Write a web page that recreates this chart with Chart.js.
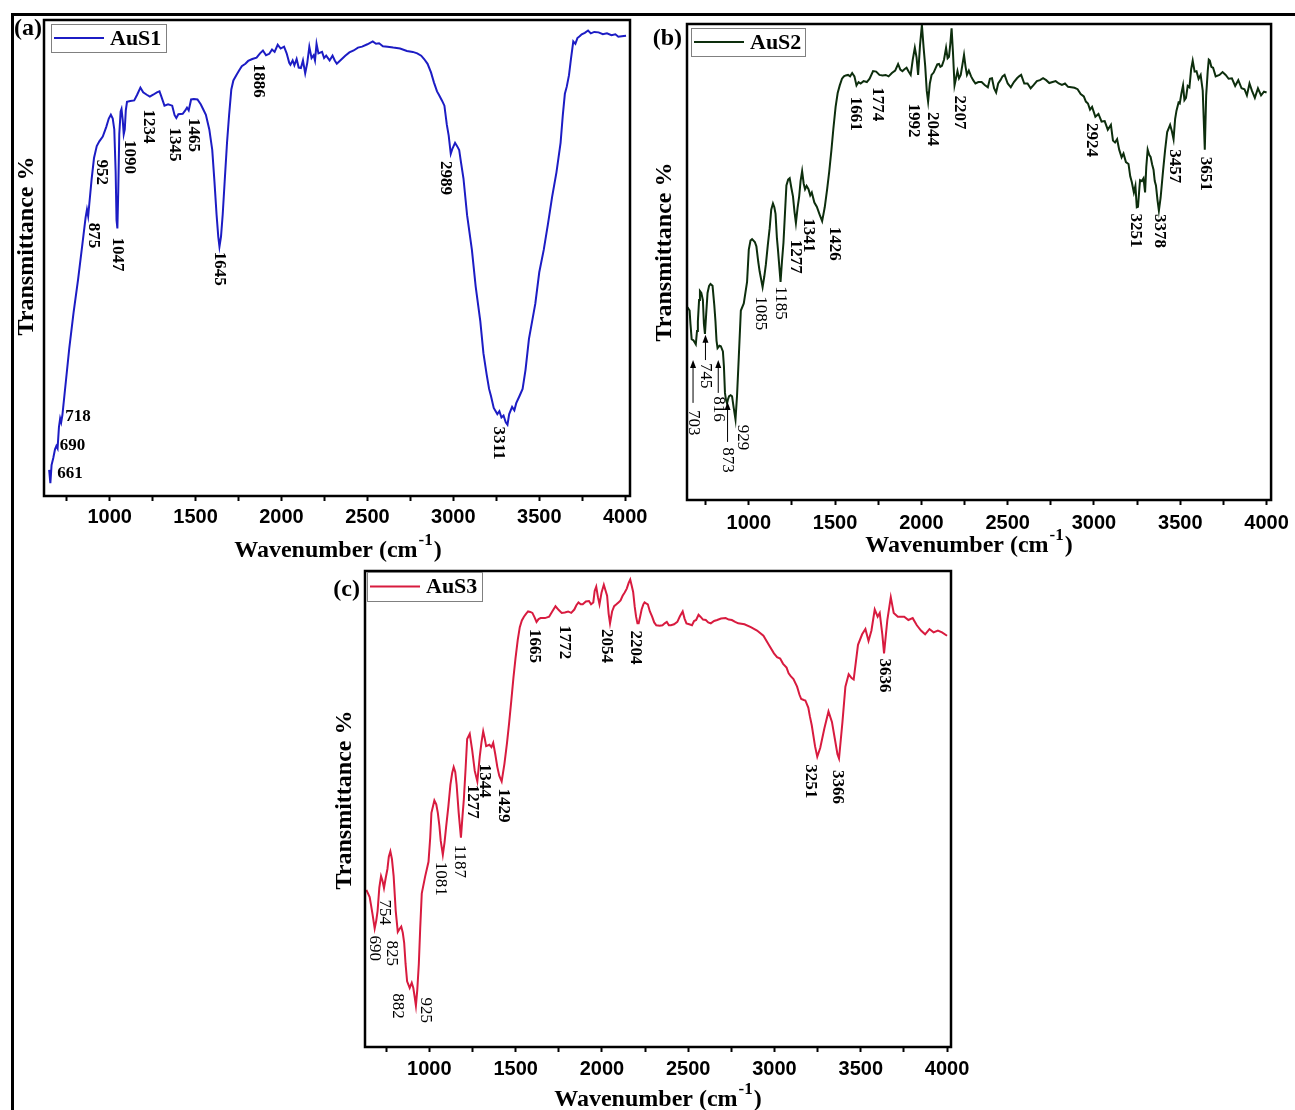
<!DOCTYPE html>
<html>
<head>
<meta charset="utf-8">
<script src="https://cdn.jsdelivr.net/npm/chart.js@4.4.0/dist/chart.umd.min.js"></script>
<style>
  html, body { margin: 0; padding: 0; background: #fff; }
  body { width: 1295px; height: 1110px; position: relative; overflow: hidden; }
  #frame { position: absolute; left: 11px; top: 13px; width: 1300px; height: 1110px;
           border-left: 3px solid #000; border-top: 3px solid #000; }
  canvas { position: absolute; left: 0; top: 0; }
</style>
</head>
<body>
<div id="frame"></div>
<canvas id="cA" width="1295" height="1110"></canvas>
<canvas id="cB" width="1295" height="1110"></canvas>
<canvas id="cC" width="1295" height="1110"></canvas>
<script>
// ---- data: wavenumber (cm-1) and transmittance (arbitrary %)
var aWn = [648,655,662,672,682,690,697,705,712,718,725,745,765,790,816,840,860,868,875,882,
  895,909,925,940,960,980,995,1007,1018,1027,1035,1040,1045,1050,1056,1064,1069,1076,1082,1088,
  1094,1101,1120,1143,1160,1179,1195,1216,1234,1253,1275,1290,1300,1319,1340,1364,1378,1388,1400,1425,
  1440,1450,1460,1474,1490,1511,1530,1545,1560,1580,1597,1610,1622,1632,1639,1648,1658,1670,1683,1695,
  1708,1720,1737,1755,1769,1790,1806,1830,1855,1875,1892,1910,1929,1945,1960,1978,1995,2015,2030,2045,
  2052,2065,2075,2088,2100,2113,2125,2138,2150,2162,2175,2187,2195,2204,2215,2236,2248,2260,2280,2297,
  2310,2322,2345,2371,2395,2420,2445,2469,2500,2531,2550,2568,2590,2617,2650,2690,2730,2764,2790,2813,
  2830,2850,2870,2887,2905,2916,2935,2948,2962,2973,2985,2995,3010,3022,3034,3045,3059,3080,3108,3130,
  3157,3175,3194,3208,3219,3235,3256,3268,3280,3292,3305,3315,3325,3342,3355,3366,3385,3403,3420,3440,
  3460,3477,3500,3526,3550,3575,3600,3624,3637,3649,3660,3673,3685,3698,3710,3722,3735,3747,3765,3784,
  3800,3820,3845,3870,3894,3920,3943,3960,3980,4005];
var aT = [5.5,2.7,6.5,8.0,9.8,10.5,10.0,14.5,16.3,15.5,17.0,24.0,31.0,38.5,45.4,52.5,58.5,60.2,58.8,61.5,
  66.5,71.0,73.5,74.5,75.5,77.5,79.3,80.1,79.3,77.0,68.0,58.0,56.2,64.0,76.0,80.8,81.3,79.0,76.0,77.0,
  81.0,82.8,83.0,83.1,84.3,85.8,84.8,84.3,83.9,84.3,84.8,85.0,84.0,82.0,82.3,82.0,80.0,79.4,80.2,80.3,
  81.0,81.6,81.0,83.3,83.4,83.3,82.3,81.2,80.1,77.0,72.7,66.0,59.2,54.5,52.4,54.5,59.2,66.5,74.2,80.0,
  85.4,87.3,88.4,89.5,90.3,90.8,91.4,91.8,92.1,93.0,93.6,92.6,92.9,93.8,93.3,94.8,94.0,94.4,93.0,91.0,
  90.6,91.5,90.5,91.8,90.0,89.9,91.5,88.8,91.0,94.4,92.0,92.6,91.5,95.0,93.0,93.3,92.0,92.5,91.5,92.5,
  91.5,90.8,91.6,92.5,93.2,93.6,94.2,94.4,94.9,95.5,95.0,95.1,94.5,94.4,94.2,94.0,93.5,93.3,93.0,92.5,
  91.8,90.8,89.0,86.9,85.0,84.3,83.0,82.0,78.0,75.7,71.9,73.0,74.2,73.5,72.7,70.0,66.7,59.0,51.7,44.0,
  36.7,30.0,25.5,22.5,21.0,18.5,17.2,17.8,16.5,16.9,15.5,15.0,17.2,18.7,18.0,19.5,21.0,22.5,26.5,33.0,
  37.0,40.4,47.0,51.7,57.0,62.9,68.0,74.2,80.0,84.5,86.0,88.4,92.0,95.5,95.0,96.2,96.6,97.0,97.3,97.8,
  97.2,97.5,97.4,97.0,97.2,96.8,97.0,96.5,96.6,96.7];

var bWn = [645,657,662,669,680,693,700,705,712,717,725,734,740,746,753,761,770,778,790,800,
  807,813,819,830,838,850,856,862,868,874,880,886,895,903,912,923,932,942,954,971,
  990,1000,1010,1019,1035,1044,1055,1063,1080,1090,1099,1110,1121,1130,1140,1148,1155,1163,1169,1184,
  1192,1201,1210,1218,1228,1237,1247,1256,1265,1273,1283,1292,1300,1309,1318,1326,1335,1346,1356,1365,
  1380,1394,1410,1425,1440,1454,1466,1479,1490,1503,1515,1527,1540,1551,1562,1575,1587,1599,1612,1624,
  1636,1648,1665,1684,1700,1720,1738,1757,1775,1793,1810,1829,1848,1865,1878,1890,1902,1914,1926,1938,
  1950,1962,1972,1981,1992,2003,2013,2022,2031,2039,2049,2059,2071,2083,2092,2102,2110,2119,2131,2143,
  2152,2160,2168,2175,2183,2192,2200,2209,2218,2228,2238,2247,2256,2264,2275,2288,2300,2313,2330,2349,
  2367,2385,2397,2409,2421,2433,2445,2458,2470,2482,2500,2518,2536,2554,2566,2578,2596,2615,2633,2651,
  2669,2687,2705,2723,2741,2760,2778,2796,2814,2832,2850,2869,2887,2905,2923,2941,2953,2965,2977,2989,
  3008,3026,3044,3062,3080,3098,3110,3122,3134,3146,3160,3171,3185,3200,3210,3219,3231,3240,3248,3255,
  3263,3267,3277,3287,3296,3303,3311,3320,3328,3337,3345,3352,3359,3368,3376,3386,3400,3412,3424,3441,
  3451,3461,3470,3478,3490,3497,3507,3516,3524,3533,3543,3553,3563,3572,3583,3594,3606,3618,3630,3642,
  3650,3659,3665,3671,3680,3690,3705,3727,3745,3763,3780,3799,3818,3836,3855,3872,3886,3901,3915,3932,
  3950,3968,3985,4000];
var bT = [40.5,39.8,37.0,33.8,33.5,32.7,35.5,37.5,42.0,43.9,43.5,42.0,37.0,34.9,39.0,43.5,45.0,45.4,45.0,41.0,
  37.5,33.5,31.9,32.4,32.3,31.2,28.0,22.5,21.0,20.3,21.2,21.8,22.0,21.8,19.5,16.9,22.0,30.0,39.8,41.3,
  45.8,52.6,54.5,54.8,54.2,53.3,50.0,48.0,44.7,47.0,49.5,53.5,57.1,61.0,62.3,61.5,60.1,55.0,52.6,45.8,
  50.0,54.1,60.5,66.1,67.3,67.6,65.5,63.8,60.5,58.2,61.5,63.8,67.0,69.1,66.5,65.3,66.0,65.3,64.0,64.6,
  62.5,61.6,60.0,58.6,61.5,65.3,69.0,73.6,78.0,82.6,85.5,87.1,88.5,89.0,89.2,89.3,89.0,89.7,89.0,87.1,
  87.8,87.5,88.0,87.8,88.5,90.1,90.0,89.3,89.2,89.3,89.0,89.7,90.2,91.6,90.4,90.1,90.5,90.8,90.0,89.3,
  92.5,95.0,93.0,89.3,95.5,99.8,95.0,91.2,86.0,83.7,87.5,89.3,89.8,90.8,91.5,91.6,91.0,91.2,92.5,95.0,
  92.8,93.1,96.0,99.1,94.0,87.1,88.5,90.1,88.6,89.3,91.5,93.5,91.0,89.3,90.2,89.0,88.2,87.5,87.8,87.8,
  87.2,86.7,88.5,88.6,86.5,85.6,87.5,88.2,89.0,89.3,87.5,86.7,87.8,88.6,89.0,89.3,87.5,87.5,86.5,87.2,
  88.0,88.2,88.6,88.2,87.6,87.8,88.0,87.5,87.2,87.5,86.8,86.7,86.6,86.3,85.3,84.8,83.7,83.3,82.0,82.6,
  80.5,81.1,79.5,79.6,77.8,78.8,75.5,75.1,75.8,73.6,72.0,72.8,71.0,70.6,68.0,66.8,64.6,66.0,61.5,61.6,
  65.5,67.2,67.0,67.6,64.6,70.0,73.6,72.5,72.1,70.5,69.4,67.0,66.1,63.0,60.8,63.5,69.1,73.5,77.3,78.8,
  77.5,75.8,80.0,81.8,83.5,83.3,85.5,87.1,84.0,84.5,87.0,86.7,90.5,92.3,90.0,90.1,88.5,89.3,86.0,73.6,
  85.0,90.1,92.5,92.3,91.0,90.8,89.0,89.3,89.9,89.3,88.5,88.6,87.0,88.2,86.5,86.3,85.0,87.5,86.0,84.5,
  86.5,85.0,85.8,85.6];

var cWn = [635,654,662,671,683,692,700,710,720,728,737,747,757,765,774,783,793,805,817,827,
  837,846,854,862,871,886,898,907,915,922,930,939,947,956,976,995,1005,1012,1029,1040,
  1049,1058,1066,1078,1088,1097,1110,1122,1132,1141,1150,1158,1170,1183,1192,1200,1210,1219,1234,1248,
  1263,1278,1292,1302,1312,1320,1329,1348,1360,1370,1382,1394,1405,1419,1435,1450,1462,1475,1487,1499,
  1512,1524,1536,1548,1560,1572,1585,1597,1609,1621,1633,1645,1670,1694,1712,1731,1750,1767,1785,1804,
  1822,1840,1852,1864,1877,1889,1907,1925,1937,1950,1958,1967,1977,1986,1998,2011,2020,2030,2039,2047,
  2059,2071,2084,2096,2108,2120,2132,2144,2155,2164,2172,2181,2190,2198,2206,2213,2222,2230,2240,2247,
  2256,2266,2278,2291,2303,2315,2335,2351,2364,2376,2388,2400,2418,2437,2452,2468,2479,2490,2506,2522,
  2534,2546,2560,2571,2586,2602,2616,2631,2650,2668,2690,2717,2735,2753,2772,2790,2826,2863,2899,2936,
  2967,2997,3015,3033,3050,3070,3082,3094,3110,3131,3145,3155,3170,3179,3196,3205,3216,3235,3248,3265,
  3289,3313,3333,3350,3365,3374,3394,3411,3430,3447,3459,3484,3508,3527,3545,3562,3581,3598,3610,3625,
  3635,3654,3674,3691,3715,3752,3776,3801,3825,3849,3873,3898,3922,3947,3971,4000];
var cT = [33.0,31.5,29.8,27.8,24.9,26.5,28.6,33.5,35.9,35.0,33.4,35.5,37.4,40.0,41.1,39.5,35.9,28.6,24.2,24.8,
  25.3,24.0,21.9,17.5,13.8,12.4,13.5,12.4,10.5,8.7,12.0,17.5,25.0,32.3,35.9,38.9,44.0,49.2,51.8,51.0,
  49.2,46.5,43.3,40.4,43.0,46.2,50.5,55.1,57.5,58.8,57.8,55.1,49.2,44.0,48.5,52.1,58.5,64.7,65.8,62.4,
  58.0,55.8,61.0,64.0,66.3,65.0,63.2,63.5,63.0,63.9,61.5,58.8,57.0,55.8,59.5,63.9,68.0,72.8,77.5,81.6,
  85.5,88.2,89.6,90.4,91.0,91.5,91.4,91.2,90.3,89.3,89.9,90.1,90.1,90.4,91.5,92.6,91.8,91.2,91.3,91.5,
  91.2,91.9,92.8,93.4,93.0,93.0,93.6,93.7,93.0,93.4,95.8,96.7,94.5,93.0,95.5,97.1,96.0,94.8,91.0,89.0,
  91.5,92.6,93.0,93.4,93.8,94.8,95.5,96.3,97.5,98.2,97.0,95.6,92.5,90.4,89.0,89.0,90.5,91.9,93.0,93.4,
  93.2,93.0,91.5,90.4,89.2,88.6,88.5,88.6,89.0,89.3,88.6,88.6,88.8,89.3,90.5,91.5,90.0,89.0,88.8,88.6,
  89.5,89.7,90.8,90.4,89.8,89.7,89.2,89.0,89.5,89.7,90.0,90.1,89.8,89.7,89.3,89.0,88.8,88.2,87.5,86.4,
  84.5,82.7,81.9,81.6,80.5,79.7,78.5,77.9,77.3,75.7,74.0,73.1,72.9,72.8,71.3,69.5,67.6,63.2,61.0,62.8,
  66.9,70.5,68.3,64.7,61.5,60.6,68.3,75.7,78.3,77.5,77.2,84.5,86.7,87.8,85.3,87.5,91.9,90.4,91.2,86.7,
  82.7,89.7,94.5,91.2,90.4,90.4,89.7,90.1,88.6,87.5,86.7,87.8,87.1,87.5,87.1,86.4];

// x tick values (major every 500 labelled, minor in between)
var xTicks = [750,1000,1250,1500,1750,2000,2250,2500,2750,3000,3250,3500,3750,4000];

// peak labels: [text, wavenumber, transmittance, rotated, regular weight]
var aPeaks = [['661',695,4.6,0],['690',710,10.5,0],['718',741,16.6,0],
  ['875',908,57.4,1],['952',952,70.7,1],['1047',1046,54.3,1],['1090',1116,74.8,1],['1234',1228,81.2,1],
  ['1345',1379,77.4,1],['1465',1487,79.4,1],['1645',1640,51.3,1],['1886',1865,90.8,1],['2989',2956,70.4,1],
  ['3311',3263,14.6,1]];
var bPeaks = [['703',677,18.9,1,1],['745',749,28.8,1,1],['816',823,21.8,1,1],['873',877,11.1,1,1],
  ['929',961,15.8,1,1],['1085',1068,42.8,1,1],['1185',1184,44.9,1,1],['1277',1272,54.7,1],['1341',1347,59.2,1],
  ['1426',1497,57.4,1],['1661',1617,84.7,1],['1774',1746,86.7,1],['1992',1953,83.3,1],['2044',2061,81.5,1],
  ['2207',2219,85.0,1],['2924',2985,79.2,1],['3251',3238,60.2,1],['3378',3381,60.1,1],['3457',3466,73.7,1],
  ['3651',3647,72.1,1]];
var cPeaks = [['690',679,23.4,1,1],['754',740,31.0,1,1],['825',783,22.4,1,1],['882',816,11.3,1,1],
  ['925',978,10.4,1,1],['1081',1063,38.9,1,1],['1187',1172,42.5,1,1],['1277',1248,55.1,1],['1344',1321,59.5,1],
  ['1429',1431,54.3,1],['1665',1609,87.8,1],['1772',1784,88.6,1],['2054',2028,87.8,1],['2204',2193,87.5,1],
  ['3251',3211,59.4,1],['3366',3364,58.2,1],['3636',3635,81.6,1]];
// arrows in (b): [wavenumber, tail, head]
var bArrows = [[677,20.4,29.4],[749,29.4,34.7],[823,22.5,29.4],[877,12.2,20.6]];

var SERIF = '"Liberation Serif", "Times New Roman", serif';
var SANS = '"Liberation Sans", Arial, sans-serif';

function makeDecor(p) {
  return {
    id: 'decor',
    afterDatasetsDraw: function(chart) {
      var a = chart.chartArea, ctx = chart.ctx;
      var xs = chart.scales.x, ys = chart.scales.y;
      var midX = (a.left + a.right) / 2, midY = (a.top + a.bottom) / 2;
      ctx.save();
      ctx.strokeStyle = '#000';
      ctx.lineWidth = 2.5;
      ctx.strokeRect(a.left, a.top, a.right - a.left, a.bottom - a.top);
      ctx.fillStyle = '#000';

      // panel tag
      ctx.font = 'bold 24px ' + SERIF;
      ctx.textAlign = 'right';
      ctx.textBaseline = 'middle';
      ctx.fillText(p.tag, a.left + p.tagPos[0], a.top + p.tagPos[1]);

      // legend
      var g = p.legend, gx = a.left + g[0], gy = a.top + g[1];
      ctx.lineWidth = 1;
      ctx.strokeStyle = '#808080';
      ctx.strokeRect(gx + 0.5, gy + 0.5, g[2], g[3]);
      ctx.strokeStyle = p.color;
      ctx.lineWidth = 2;
      ctx.beginPath();
      ctx.moveTo(gx + 3, gy + g[3] / 2);
      ctx.lineTo(gx + 53, gy + g[3] / 2);
      ctx.stroke();
      ctx.font = 'bold 22px ' + SERIF;
      ctx.textAlign = 'left';
      ctx.fillText(chart.data.datasets[0].label, gx + 59, gy + g[3] / 2 + 1);

      // y title
      ctx.save();
      ctx.translate(a.left + p.yTitle[0], midY + p.yTitle[1]);
      ctx.rotate(-Math.PI / 2);
      ctx.font = 'bold 24px ' + SERIF;
      ctx.textAlign = 'center';
      ctx.fillText('Transmittance %', 0, 0);
      ctx.restore();

      // x title with superscript
      var tx = midX + p.xTitle[0], ty = a.bottom + p.xTitle[1];
      ctx.font = 'bold 24px ' + SERIF;
      var w1 = ctx.measureText('Wavenumber (cm').width, w3 = ctx.measureText(')').width;
      ctx.font = 'bold 17px ' + SERIF;
      var w2 = ctx.measureText('-1').width;
      var sx = tx - (w1 + w2 + w3) / 2;
      ctx.textAlign = 'left';
      ctx.font = 'bold 24px ' + SERIF;
      ctx.fillText('Wavenumber (cm', sx, ty);
      ctx.font = 'bold 17px ' + SERIF;
      ctx.fillText('-1', sx + w1 + 1, ty - 10);
      ctx.font = 'bold 24px ' + SERIF;
      ctx.fillText(')', sx + w1 + w2 + 2, ty);

      // peak labels
      p.peaks.forEach(function(k) {
        var px = xs.getPixelForValue(k[1]), py = ys.getPixelForValue(k[2]);
        ctx.font = (k[4] ? '' : 'bold ') + '17px ' + SERIF;
        ctx.textAlign = 'left';
        ctx.textBaseline = 'middle';
        if (k[3]) {
          ctx.save();
          ctx.translate(px, py);
          ctx.rotate(Math.PI / 2);
          ctx.fillText(k[0], 0, 0);
          ctx.restore();
        } else {
          ctx.fillText(k[0], px, py);
        }
      });

      // arrows
      (p.arrows || []).forEach(function(r) {
        var px = xs.getPixelForValue(r[0]), y0 = ys.getPixelForValue(r[1]), y1 = ys.getPixelForValue(r[2]);
        ctx.strokeStyle = '#000';
        ctx.lineWidth = 1;
        ctx.beginPath();
        ctx.moveTo(px, y0);
        ctx.lineTo(px, y1 + 6);
        ctx.stroke();
        ctx.beginPath();
        ctx.moveTo(px, y1);
        ctx.lineTo(px - 3, y1 + 8);
        ctx.lineTo(px + 3, y1 + 8);
        ctx.closePath();
        ctx.fill();
      });
      ctx.restore();
    }
  };
}

function makePanel(p) {
  var pts = p.wn.map(function(w, i) { return { x: w, y: p.t[i] }; });
  var XH = 40;
  return new Chart(document.getElementById(p.id), {
    type: 'line',
    data: { datasets: [{ label: p.name, data: pts, borderColor: p.color, borderWidth: 2,
      pointRadius: 0, tension: 0, fill: false }] },
    options: {
      responsive: false,
      animation: false,
      events: [],
      layout: { padding: { left: p.box[0], top: p.box[1], right: 1295 - p.box[2], bottom: 1110 - p.box[3] - XH } },
      plugins: { legend: { display: false }, tooltip: { enabled: false } },
      scales: {
        x: {
          type: 'linear', min: p.xr[0], max: p.xr[1],
          afterBuildTicks: function(s) { s.ticks = xTicks.map(function(v) { return { value: v }; }); },
          afterFit: function(s) { s.height = XH; },
          ticks: {
            autoSkip: false, maxRotation: 0, padding: p.tickPad, color: '#000',
            font: { family: SANS, size: 20, weight: 'bold' },
            callback: function(v) { return v % 500 === 0 ? String(v) : ''; }
          },
          grid: { drawOnChartArea: false, tickLength: 5, tickWidth: 2, tickColor: '#000' },
          border: { display: false }
        },
        y: { display: false, min: 0, max: 100 }
      }
    },
    plugins: [makeDecor(p)]
  });
}

makePanel({ id: 'cA', tag: '(a)', name: 'AuS1', color: '#1c1cc4', wn: aWn, t: aT, peaks: aPeaks,
  box: [44, 20, 630, 496], xr: [618, 4028], tickPad: 4,
  tagPos: [-2, 9], legend: [7, 4, 115, 28], yTitle: [-17, -12], xTitle: [0, 55] });
makePanel({ id: 'cB', tag: '(b)', name: 'AuS2', color: '#0d2e0d', wn: bWn, t: bT, peaks: bPeaks, arrows: bArrows,
  box: [687, 24, 1273, 500], xr: [642, 4026], tickPad: 6,
  tagPos: [-5, 15], legend: [4, 4, 114, 28], yTitle: [-22, -10], xTitle: [-11, 46] });
makePanel({ id: 'cC', tag: '(c)', name: 'AuS3', color: '#d81b3f', wn: cWn, t: cT, peaks: cPeaks,
  box: [365, 571, 951, 1047], xr: [627, 4023], tickPad: 5,
  tagPos: [-5, 19], legend: [2, 1, 115, 29], yTitle: [-20, -9], xTitle: [-1, 53] });
</script>
</body>
</html>
